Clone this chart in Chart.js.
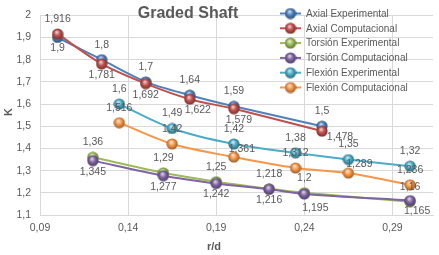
<!DOCTYPE html>
<html>
<head>
<meta charset="utf-8">
<script src="https://cdn.jsdelivr.net/npm/chart.js@4"></script>
<style>
  html, body { margin: 0; padding: 0; background: #fff; }
  #wrap { width: 439px; height: 255px; }
</style>
</head>
<body>
<div id="wrap"><canvas id="chart" width="439" height="255"></canvas></div>
<script>
const AXIAL_RD = [0.1, 0.125, 0.15, 0.175, 0.2, 0.25];
const AXIAL_EXP = [1.9, 1.8, 1.7, 1.64, 1.59, 1.5];
const AXIAL_COMP = [1.916, 1.781, 1.692, 1.622, 1.579, 1.478];

const TORSION_RD = [0.12, 0.16, 0.19, 0.22, 0.24, 0.3];
const TORSION_EXP = [1.36, 1.29, 1.25, 1.218, 1.2, 1.16];
const TORSION_COMP = [1.345, 1.277, 1.242, 1.216, 1.195, 1.165];

const FLEXION_RD = [0.135, 0.165, 0.2, 0.235, 0.265, 0.3];
const FLEXION_EXP = [1.6, 1.49, 1.42, 1.38, 1.35, 1.32];
const FLEXION_COMP = [1.516, 1.42, 1.361, 1.312, 1.289, 1.236];

const X_TICKS = [0.09, 0.14, 0.19, 0.24, 0.29];
const Y_TICKS = [1.1, 1.2, 1.3, 1.4, 1.5, 1.6, 1.7, 1.8, 1.9, 2];

const TEXT = '#595959';
const GRID = '#d9d9d9';
const FONT = '"Liberation Sans", Arial, sans-serif';

const comma = v => String(v).replace('.', ',');
const pts = (xs, ys) => ys.map((y, i) => ({x: xs[i], y}));

function mix(hex, to, t) {
    const n = parseInt(hex.slice(1), 16);
    const c = [n >> 16, (n >> 8) & 255, n & 255].map(v => Math.round(v + (to - v) * t));
    return `rgb(${c[0]},${c[1]},${c[2]})`;
}

// glossy ball marker like the excel ones
function sphere(color) {
    const c = document.createElement('canvas');
    c.width = c.height = 12;
    const g = c.getContext('2d');
    const grad = g.createRadialGradient(5, 4, 0.3, 6, 6, 6.2);
    grad.addColorStop(0, mix(color, 255, 0.75));
    grad.addColorStop(0.45, color);
    grad.addColorStop(1, mix(color, 0, 0.45));
    g.fillStyle = grad;
    g.beginPath();
    g.arc(6, 6, 5.6, 0, Math.PI * 2);
    g.fill();
    return c;
}

function series(label, xs, ys, color, labelPos, shift) {
    return {
        label,
        data: pts(xs, ys),
        showLine: true,
        borderColor: color,
        backgroundColor: color,
        borderWidth: 2,
        tension: 0.3,
        pointStyle: sphere(color),
        labelPos,
        labelShift: shift || {},
    };
}

const datasets = [
    series('Axial Experimental', AXIAL_RD, AXIAL_EXP, '#4f81bd',
        ['below', 'above', 'above', 'above', 'above', 'above']),
    series('Axial Computacional', AXIAL_RD, AXIAL_COMP, '#c0504d',
        ['above', 'below', 'below', 'below', 'below', 'below'],
        {3: [8, 0], 4: [5, 0], 5: [18, -5]}),
    series('Torsión Experimental', TORSION_RD, TORSION_EXP, '#9bbb59',
        ['above', 'above', 'above', 'above', 'above', 'above']),
    series('Torsión Computacional', TORSION_RD, TORSION_COMP, '#8064a2',
        ['below', 'below', 'below', 'below', 'below', 'below'],
        {4: [11, 3], 5: [7, 0]}),
    series('Flexión Experimental', FLEXION_RD, FLEXION_EXP, '#4bacc6',
        ['above', 'above', 'above', 'above', 'above', 'above']),
    series('Flexión Computacional', FLEXION_RD, FLEXION_COMP, '#f79646',
        ['above', 'above', 'above', 'above', 'above', 'above'],
        {2: [8, 7], 4: [11, 6]}),
];
datasets.forEach((d, i) => { d.order = datasets.length - i; });

const overlay = {
    id: 'overlay',
    afterDatasetsDraw(chart) {
        const ctx = chart.ctx;
        ctx.save();
        ctx.font = `10.5px ${FONT}`;
        ctx.fillStyle = TEXT;
        ctx.textAlign = 'center';
        ctx.textBaseline = 'middle';
        chart.data.datasets.forEach((ds, i) => {
            chart.getDatasetMeta(i).data.forEach((el, j) => {
                const s = ds.labelShift[j] || [0, 0];
                const dy = ds.labelPos[j] === 'above' ? -15 : 11;
                ctx.fillText(comma(ds.data[j].y), el.x + s[0], el.y + dy + s[1]);
            });
        });
        ctx.restore();
    },
    afterDraw(chart) {
        const ctx = chart.ctx;
        ctx.save();
        ctx.fillStyle = TEXT;
        ctx.textBaseline = 'middle';

        ctx.font = `bold 16px ${FONT}`;
        ctx.textAlign = 'center';
        ctx.fillText('Graded Shaft', 188, 14);

        ctx.font = `bold 11px ${FONT}`;
        ctx.fillText('r/d', 214, 247);
        ctx.save();
        ctx.translate(9, 112);
        ctx.rotate(-Math.PI / 2);
        ctx.fillText('K', 0, 0);
        ctx.restore();

        // legend
        ctx.font = `10px ${FONT}`;
        ctx.textAlign = 'left';
        chart.data.datasets.forEach((ds, i) => {
            const y = 13.5 + i * 14.8;
            ctx.strokeStyle = ds.borderColor;
            ctx.lineWidth = 2;
            ctx.beginPath();
            ctx.moveTo(280, y);
            ctx.lineTo(301, y);
            ctx.stroke();
            ctx.drawImage(ds.pointStyle, 284.5, y - 6);
            ctx.fillStyle = TEXT;
            ctx.fillText(ds.label, 306, y + 0.5);
        });
        ctx.restore();
    }
};

new Chart(document.getElementById('chart'), {
    type: 'scatter',
    data: { datasets },
    plugins: [overlay],
    options: {
        responsive: false,
        animation: false,
        devicePixelRatio: 1,
        layout: { padding: { top: 7, left: 0, right: 0, bottom: 0 } },
        plugins: {
            legend: { display: false },
            title: { display: false },
            tooltip: { enabled: false },
        },
        scales: {
            x: {
                type: 'linear',
                min: 0.09,
                max: 0.313,
                afterBuildTicks: s => { s.ticks = X_TICKS.map(value => ({value})); },
                afterFit: s => { s.height = 40; },
                grid: { color: GRID, drawTicks: false },
                border: { color: GRID },
                ticks: {
                    padding: 7,
                    color: TEXT,
                    font: { family: FONT, size: 10.5 },
                    callback: v => v.toFixed(2).replace('.', ','),
                },
            },
            y: {
                min: 1.1,
                max: 2,
                afterBuildTicks: s => { s.ticks = Y_TICKS.map(value => ({value})); },
                afterFit: s => { s.width = 40; },
                grid: { color: GRID, drawTicks: false },
                border: { color: GRID },
                ticks: {
                    padding: 9,
                    color: TEXT,
                    font: { family: FONT, size: 10.5 },
                    callback: v => comma(Math.round(v * 10) / 10),
                },
            },
        },
    },
});
</script>
</body>
</html>
